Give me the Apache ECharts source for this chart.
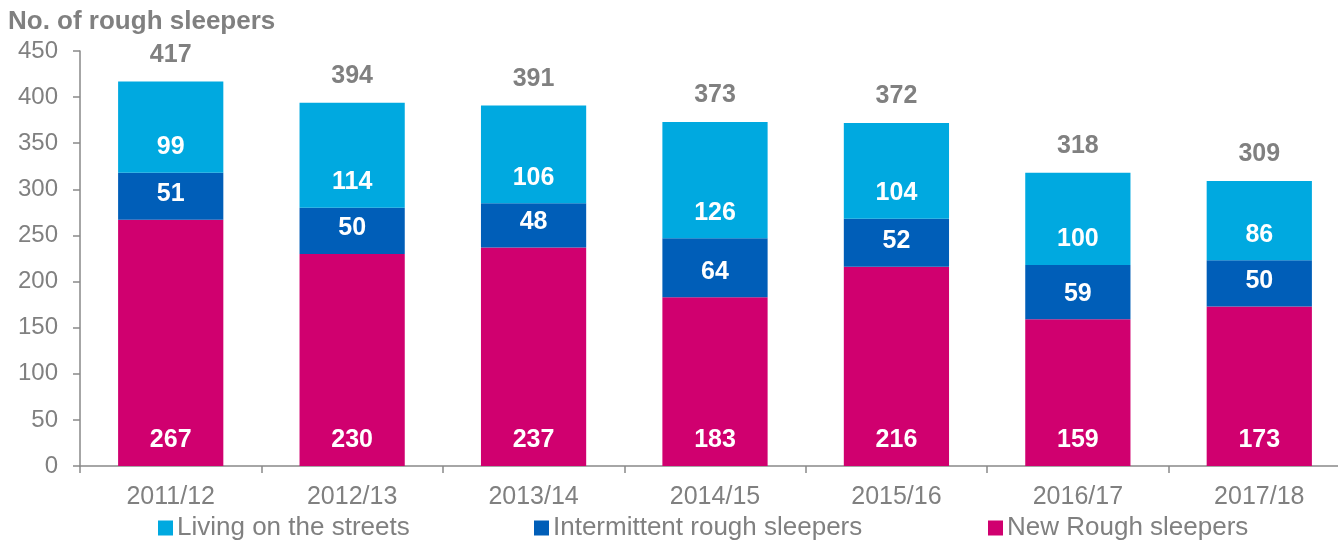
<!DOCTYPE html>
<html>
<head>
<meta charset="utf-8">
<script src="https://cdn.jsdelivr.net/npm/echarts@6/dist/echarts.min.js"></script>
<style>
  html, body { margin: 0; padding: 0; background: #fff; }
  #chart { width: 1338px; height: 542px; }
</style>
</head>
<body>
<div id="chart"></div>
<script>
// data
var years = ['2011/12', '2012/13', '2013/14', '2014/15', '2015/16', '2016/17', '2017/18'];
var newRough = [267, 230, 237, 183, 216, 159, 173];
var intermittent = [51, 50, 48, 64, 52, 59, 50];
var living = [99, 114, 106, 126, 104, 100, 86];
var totals = [417, 394, 391, 373, 372, 318, 309];
var yTicks = [0, 50, 100, 150, 200, 250, 300, 350, 400, 450];

var grey = '#808080';
var font = '"Liberation Sans", Arial, sans-serif';

var chart = echarts.init(document.getElementById('chart'));

// white bold labels sitting near the bottom of each segment
function segLabel() {
	return {
		show: true,
		position: 'insideBottom',
		distance: 13,
		color: '#fff',
		fontWeight: 'bold',
		fontSize: 25,
		fontFamily: font
	};
}

function legendAt(name, left) {
	return {
		data: [name],
		left: left,
		top: 510,
		itemWidth: 15,
		itemHeight: 15,
		itemGap: 0,
		icon: 'rect',
		textStyle: { color: grey, fontSize: 26, fontFamily: font, padding: [0, 0, 0, -1] }
	};
}

var option = {
	animation: false,
	textStyle: { fontFamily: font },
	title: {
		text: 'No. of rough sleepers',
		left: 3,
		top: 4,
		textStyle: { color: grey, fontSize: 26, fontWeight: 'bold', fontFamily: font }
	},
	legend: [
		legendAt('Living on the streets', 153),
		legendAt('Intermittent rough sleepers', 529),
		legendAt('New Rough sleepers', 983)
	],
	grid: { left: 80, width: 1270, top: 51, bottom: 76, containLabel: false, outerBoundsMode: 'none' },
	xAxis: {
		type: 'category',
		data: years,
		axisLine: { lineStyle: { color: '#898989', width: 1.5 } },
		axisTick: { show: true, length: 7, lineStyle: { color: '#898989', width: 1.5 } },
		axisLabel: { color: grey, fontSize: 25, margin: 19, fontFamily: font }
	},
	yAxis: {
		type: 'value',
		min: yTicks[0],
		max: yTicks[yTicks.length - 1],
		interval: 50,
		splitLine: { show: false },
		axisLine: { show: true, lineStyle: { color: '#898989', width: 1.5 } },
		axisTick: { show: true, length: 7, lineStyle: { color: '#898989', width: 1.5 } },
		axisLabel: { color: grey, fontSize: 24, margin: 22, fontFamily: font }
	},
	series: [
		{
			name: 'New Rough sleepers',
			type: 'bar',
			stack: 'all',
			barCategoryGap: '42%',
			data: newRough,
			itemStyle: { color: '#D0006F' },
			label: segLabel()
		},
		{
			name: 'Intermittent rough sleepers',
			type: 'bar',
			stack: 'all',
			data: intermittent,
			itemStyle: { color: '#005EB8' },
			label: segLabel()
		},
		{
			name: 'Living on the streets',
			type: 'bar',
			stack: 'all',
			data: living,
			itemStyle: { color: '#00A9E0' },
			label: segLabel()
		},
		{
			// zero-height bar carrying the total above each stack
			name: 'Total',
			type: 'bar',
			stack: 'all',
			data: totals.map(function() { return 0; }),
			itemStyle: { color: 'transparent' },
			label: {
				show: true,
				position: 'top',
				distance: 14,
				color: grey,
				fontWeight: 'bold',
				fontSize: 25,
				fontFamily: font,
				formatter: function(p) { return totals[p.dataIndex]; }
			}
		}
	]
};

chart.setOption(option);
</script>
</body>
</html>
